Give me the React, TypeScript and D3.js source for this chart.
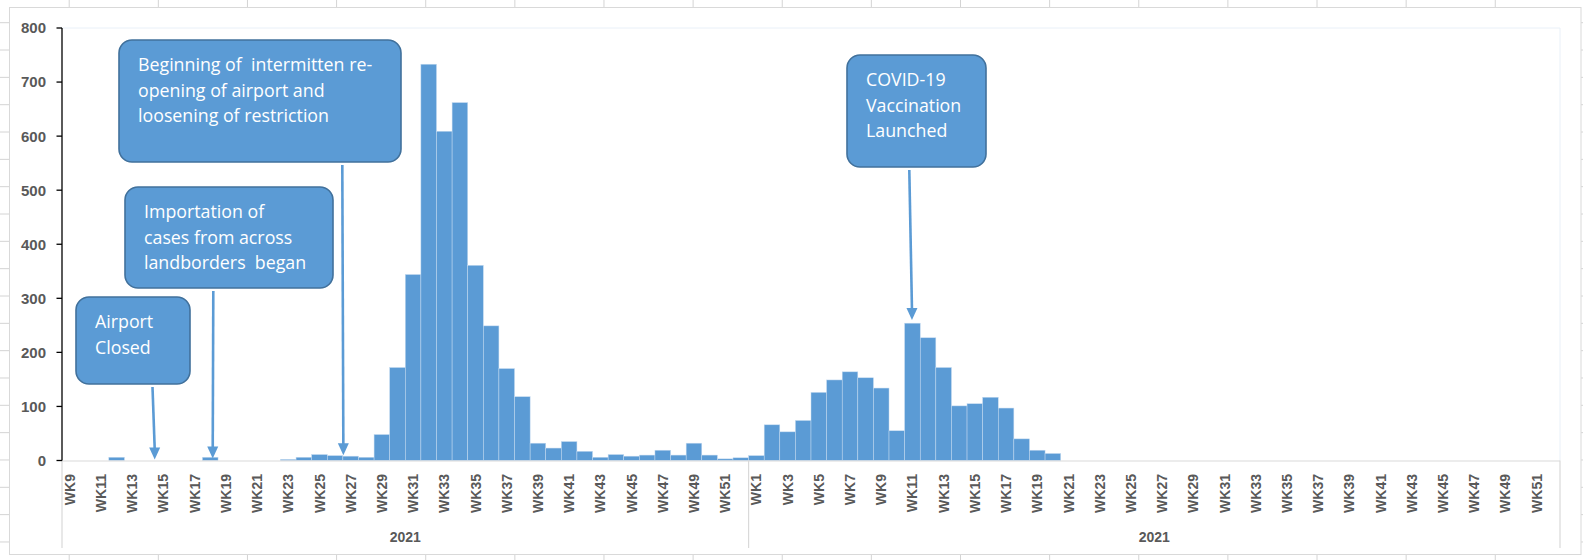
import React from 'react'
import * as d3 from 'd3'

// weekly cases, first block WK9..WK52
const firstWeeks = ['WK9','WK10','WK11','WK12','WK13','WK14','WK15','WK16','WK17','WK18','WK19','WK20','WK21','WK22','WK23','WK24','WK25','WK26','WK27','WK28','WK29','WK30','WK31','WK32','WK33','WK34','WK35','WK36','WK37','WK38','WK39','WK40','WK41','WK42','WK43','WK44','WK45','WK46','WK47','WK48','WK49','WK50','WK51','WK52']
const firstCases = [0,0,0,6,0,0,0,0,0,6, 0,0,0,0,2,6,11,9,8,6, 48,172,344,733,609,662,361,249,170,118, 32,23,35,17,6,11,8,10,19,10, 32,10,3,5]

// second block WK1..WK52
const secondWeeks = ['WK1','WK2','WK3','WK4','WK5','WK6','WK7','WK8','WK9','WK10','WK11','WK12','WK13','WK14','WK15','WK16','WK17','WK18','WK19','WK20','WK21','WK22','WK23','WK24','WK25','WK26','WK27','WK28','WK29','WK30','WK31','WK32','WK33','WK34','WK35','WK36','WK37','WK38','WK39','WK40','WK41','WK42','WK43','WK44','WK45','WK46','WK47','WK48','WK49','WK50','WK51','WK52']
const secondCases = [9,66,53,74,126,149,164,153,134,55, 254,227,172,101,105,117,97,40,19,13, 0,0,0,0,0,0,0,0,0,0, 0,0,0,0,0,0,0,0,0,0, 0,0,0,0,0,0,0,0,0,0, 0,0]

const yearLabels = ['2021', '2021']
const yTicks = [0,100,200,300,400,500,600,700,800]

// callouts: box layout + arrow target (block, week)
const callouts = [
  { lines: ['Airport', 'Closed'], box: [76, 297, 114, 87], from: 152.5, block: 0, week: 'WK15', shift: -0.06, val: 0 },
  { lines: ['Importation of', 'cases from across', 'landborders  began'], box: [125, 187, 208, 101], from: 213.3, block: 0, week: 'WK18', shift: 0.66, val: 2 },
  { lines: ['Beginning of  intermitten re-', 'opening of airport and', 'loosening of restriction'], box: [119, 40, 282, 122], from: 342.3, block: 0, week: 'WK27', shift: 0.03, val: 8 },
  { lines: ['COVID-19', 'Vaccination', 'Launched'], box: [847, 55, 139, 112], from: 909.3, block: 1, week: 'WK11', shift: 0.47, val: 258 },
]

const W = 1583
const H = 560
const left = 62
const right = 1560
const top = 28
const base = 460.5
const BLUE = '#5B9BD5'
const GRAY_TXT = '#595959'

export default function App() {
  const cats = [
    ...firstWeeks.map((w, i) => ({ key: `0-${w}`, block: 0, week: w, v: firstCases[i] })),
    ...secondWeeks.map((w, i) => ({ key: `1-${w}`, block: 1, week: w, v: secondCases[i] })),
  ]
  const x = d3.scaleBand().domain(cats.map(d => d.key)).range([left, right]).padding(0)
  const y = d3.scaleLinear().domain([0, 800]).range([base, top])
  const bw = x.bandwidth()
  const split = x(`1-${secondWeeks[0]}`)
  const groups = [[left, split], [split, right]]

  const colX = d3.range(0, 18).map(k => 69.2 + 89.13 * k)
  const rowY = d3.range(0, 21).map(k => 22.7 + 27.33 * k)

  return (
    <svg width={W} height={H} style={{ position: 'absolute', left: 0, top: 0, display: 'block', background: '#fff' }}>
      {/* spreadsheet cells behind the chart */}
      <g stroke="#d4d4d4" strokeWidth={1}>
        {colX.map((cx, i) => <line key={'t' + i} x1={cx} x2={cx} y1={0} y2={7} />)}
        {colX.map((cx, i) => <line key={'b' + i} x1={cx} x2={cx} y1={555} y2={H} />)}
        {rowY.map((ry, i) => <line key={'l' + i} x1={0} x2={9} y1={ry} y2={ry} />)}
        {rowY.map((ry, i) => <line key={'r' + i} x1={1581} x2={W} y1={ry} y2={ry} />)}
      </g>
      <rect x={9.5} y={7.5} width={1571.5} height={547} fill="#fff" stroke="#d9d9d9" />

      {/* plot area border */}
      <path d={`M${left},${top}H${right}V${base}`} fill="none" stroke="#e9f0f8" />

      {/* bars */}
      <g>
        {cats.filter(d => d.v > 0).map(d => (
          <rect key={d.key} x={x(d.key)} y={y(d.v)} width={bw} height={base - y(d.v)}
            fill={BLUE} stroke="#c4daf0" strokeWidth={0.5} />
        ))}
      </g>

      {/* category axis */}
      <g stroke="#d9d9d9" strokeWidth={1.2}>
        <line x1={left} x2={right} y1={base + 0.5} y2={base + 0.5} />
        {[left, split, right].map((vx, i) => <line key={i} x1={vx} x2={vx} y1={base} y2={548} />)}
      </g>
      <g fontFamily="'Liberation Sans', Arial, sans-serif" fontWeight="bold" fontSize={14} fill={GRAY_TXT}>
        {cats.filter(d => +d.week.slice(2) % 2 === 1).map(d => {
          const cx = x(d.key) + bw / 2
          return (
            <text key={d.key} transform={`translate(${cx},474) rotate(-90)`} textAnchor="end" dy="0.36em">{d.week}</text>
          )
        })}
        {groups.map((g, i) => (
          <text key={i} x={(g[0] + g[1]) / 2} y={542} textAnchor="middle">{yearLabels[i]}</text>
        ))}
      </g>

      {/* value axis */}
      <g>
        <line x1={left} x2={left} y1={top} y2={base} stroke="#000" strokeWidth={1.3} />
        {yTicks.map(t => (
          <g key={t}>
            <line x1={left - 5.5} x2={left} y1={y(t)} y2={y(t)} stroke="#000" strokeWidth={1.3} />
            <text x={46} y={y(t)} dy="0.36em" textAnchor="end" fontFamily="'Liberation Sans', Arial, sans-serif"
              fontWeight="bold" fontSize={15} fill={GRAY_TXT}>{t}</text>
          </g>
        ))}
      </g>

      {/* callouts */}
      {callouts.map((c, i) => {
        const [bx, by, bwid, bh] = c.box
        const tx = x(`${c.block}-${c.week}`) + bw * c.shift
        const ty = y(c.val) - 1
        const ah = 12
        return (
          <g key={i}>
            <line x1={c.from} y1={by + bh + 3} x2={tx} y2={ty - ah + 1} stroke={BLUE} strokeWidth={2.6} />
            <path d={`M${tx - 5.5},${ty - ah}L${tx + 5.5},${ty - ah}L${tx},${ty}Z`} fill={BLUE} />
            <rect x={bx} y={by} width={bwid} height={bh} rx={13} fill={BLUE} stroke="#41719C" strokeWidth={1.6} />
            {c.lines.map((ln, j) => (
              <text key={j} x={bx + 19} y={by + 31 + j * 25.7} fill="#fff" fontFamily="'Open Sans', sans-serif"
                fontSize={17.8} style={{ whiteSpace: 'pre' }}>{ln}</text>
            ))}
          </g>
        )
      })}
    </svg>
  )
}
